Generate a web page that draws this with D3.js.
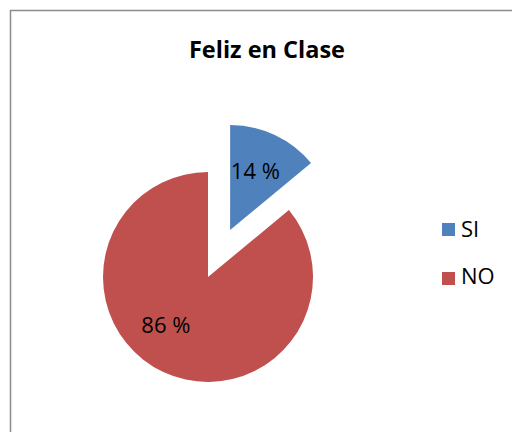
<!DOCTYPE html>
<html>
<head>
<meta charset="utf-8">
<script src="https://cdn.jsdelivr.net/npm/d3@7"></script>
<style>
  body { margin: 0; background: #fff; }
  svg { display: block; font-family: "Open Sans", sans-serif; }
</style>
</head>
<body>
<div id="chart"></div>
<script>
// data
const categories = ["SI", "NO"];
const values = [14, 86];
const colors = ["#4F81BD", "#C0504D"];
const title = "Feliz en Clase";

const w = 512;
const h = 432;
const svg = d3.select("#chart")
    .append("svg")
    .attr("width", w)
    .attr("height", h);

// chart border (runs off the right and bottom edge)
svg.append("rect")
    .attr("x", 10.5)
    .attr("y", 10.5)
    .attr("width", 520)
    .attr("height", 440)
    .style("fill", "#fff")
    .style("stroke", "#8c8c8c")
    .style("stroke-width", 1.5);

svg.append("text")
    .attr("x", 267)
    .attr("y", 58)
    .attr("text-anchor", "middle")
    .style("font-size", "23.5px")
    .style("font-weight", "bold")
    .text(title);

const cx = 208, cy = 277, r = 105;
const explode = [52, 0];      // first slice pulled out
const labelShift = [-2, 16];  // degrees, label nudge like excel does

const pie = d3.pie().sort(null).value(d => d);
const arc = d3.arc().innerRadius(0).outerRadius(r);

const slices = pie(values);
const g = svg.append("g").attr("transform", `translate(${cx},${cy})`);

const sg = g.selectAll("g.slice")
    .data(slices)
    .enter()
    .append("g")
    .attr("class", "slice")
    .attr("transform", (d, i) => {
        const a = (d.startAngle + d.endAngle) / 2;
        return `translate(${Math.sin(a) * explode[i]},${-Math.cos(a) * explode[i]})`;
    });

sg.append("path")
    .attr("d", arc)
    .style("fill", (d, i) => colors[i]);

sg.append("text")
    .attr("transform", (d, i) => {
        const a = (d.startAngle + d.endAngle) / 2 + labelShift[i] * Math.PI / 180;
        return `translate(${Math.sin(a) * 64},${-Math.cos(a) * 64})`;
    })
    .attr("text-anchor", "middle")
    .attr("dy", "0.35em")
    .style("font-size", "22px")
    .text(d => d.data + " %");

// legend
const legend = svg.append("g").attr("id", "legend");
categories.forEach((c, i) => {
    legend.append("rect")
        .attr("x", 442)
        .attr("y", 223 + i * 49)
        .attr("width", 13)
        .attr("height", 13)
        .style("fill", colors[i]);
    legend.append("text")
        .attr("x", 461)
        .attr("y", 237 + i * 47)
        .style("font-size", "22px")
        .text(c);
});
</script>
</body>
</html>
